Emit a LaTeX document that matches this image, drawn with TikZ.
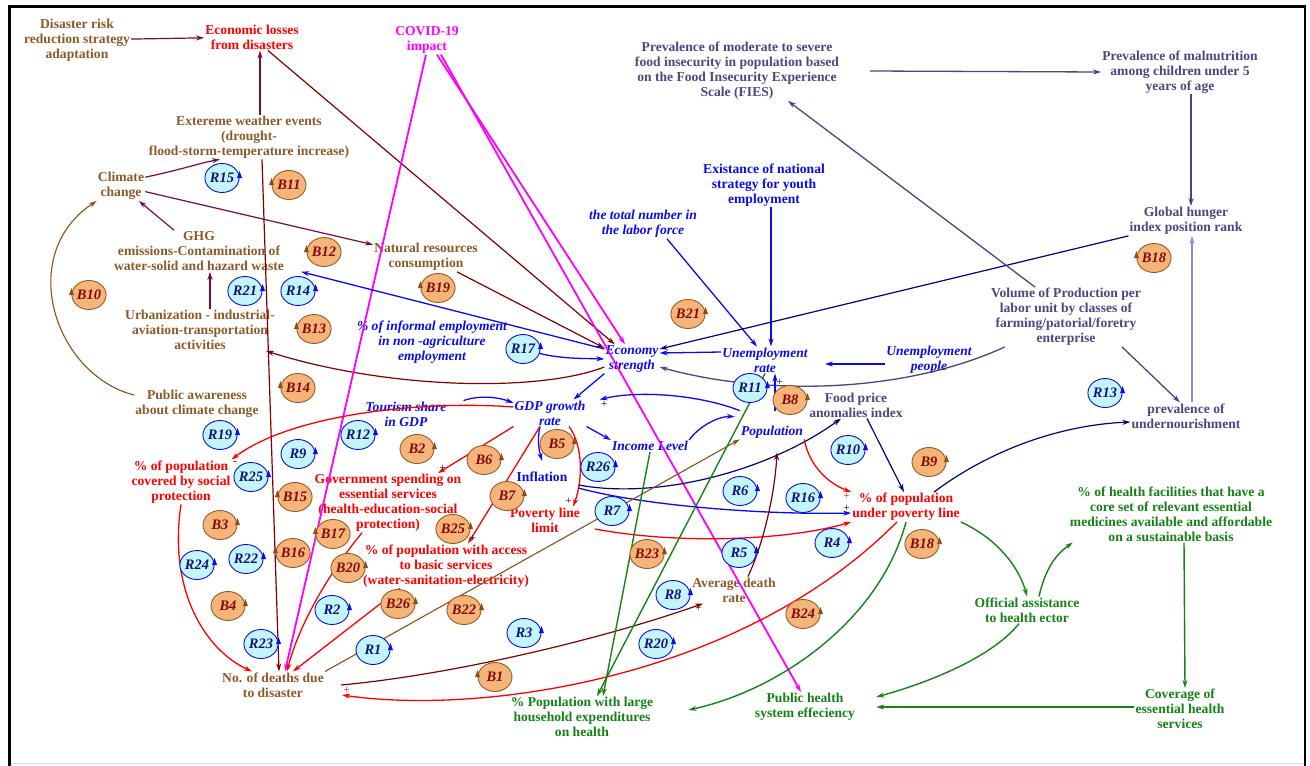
\documentclass[tikz,border=0pt]{standalone}
\usepackage{fontspec}
\setmainfont{Liberation Serif}
\usetikzlibrary{arrows.meta,shapes.geometric}

\definecolor{txtBrown}{RGB}{140,90,40}
\definecolor{txtRed}{RGB}{255,0,0}
\definecolor{txtMagenta}{RGB}{255,0,255}
\definecolor{txtSlate}{RGB}{72,72,130}
\definecolor{txtBlue}{RGB}{10,10,240}
\definecolor{txtGreen}{RGB}{20,130,20}
\definecolor{lnMaroon}{RGB}{128,0,0}
\definecolor{lnPlum}{RGB}{120,10,70}
\definecolor{lnNavy}{RGB}{0,0,130}
\definecolor{lnSlate}{RGB}{70,70,130}
\definecolor{lnPale}{RGB}{140,140,205}
\definecolor{lnBrown}{RGB}{140,80,20}
\definecolor{loopRfill}{RGB}{195,245,250}
\definecolor{loopRtext}{RGB}{20,20,120}
\definecolor{loopBfill}{RGB}{245,180,120}
\definecolor{loopBline}{RGB}{150,90,40}
\definecolor{loopBtext}{RGB}{130,10,10}

\begin{document}
\begin{tikzpicture}[
        % pixel grid: 1pt = 1px, y downwards
        x=1pt, y=-1pt,
        >={Stealth[length=8pt,width=5pt]},
        varTxt/.style={align=center, inner sep=1pt, font=\bfseries\fontsize{13.6}{15}\selectfont},
        varIt/.style={varTxt, font=\bfseries\itshape\fontsize{13.6}{15}\selectfont},
        % arrow styles
        arrPlum/.style={->, draw=lnPlum, line width=1.2pt},
        arrMaroon/.style={->, draw=lnMaroon, line width=1.2pt},
        arrBrown/.style={->, draw=lnBrown, line width=1.1pt},
        arrMagenta/.style={->, draw=txtMagenta, line width=1.8pt},
        arrRed/.style={->, draw=txtRed, line width=1.3pt},
        arrBlue/.style={->, draw=txtBlue, line width=1.3pt},
        arrNavy/.style={->, draw=lnNavy, line width=1.2pt},
        arrSlate/.style={->, draw=lnSlate, line width=1.3pt},
        arrPale/.style={->, draw=lnPale, line width=1.2pt},
        arrGreen/.style={->, draw=txtGreen, line width=1.4pt},
        % loop markers
        rLoop/.style={ellipse, draw=txtBlue, fill=loopRfill, line width=0.9pt, minimum width=34pt, minimum height=29pt, inner sep=0pt, text=loopRtext, font=\bfseries\itshape\fontsize{14.5}{14}\selectfont},
        bLoop/.style={ellipse, draw=loopBline, fill=loopBfill, line width=0.9pt, minimum width=34pt, minimum height=29pt, inner sep=0pt, text=loopBtext, font=\bfseries\itshape\fontsize{14.5}{14}\selectfont},
        pol/.style={font=\fontsize{11}{11}\selectfont, inner sep=1pt}
    ]

    \useasboundingbox (0,0) rectangle (1310,766);

    % --- 1. frame ---
    \draw[gray!30, line width=1pt] (9,763) -- (1305,763);
    \draw[line width=3pt] (9.5,766) -- (9.5,6.5) -- (1305,6.5);
    \draw[line width=2pt] (1305,5) -- (1305,766);

    % --- 2. variables ---
    \node[varTxt, txtBrown] (drr) at (77,40) {Disaster risk\\reduction strategy\\adaptation};
    \node[varTxt, txtRed] (econLoss) at (252,37) {Economic losses\\from disasters};
    \node[varTxt, txtMagenta] (covid) at (427,40) {COVID-19\\impact};
    \node[varTxt, txtSlate] (fies) at (737,71) {Prevalence of moderate to severe\\food insecurity in population based\\on the Food Insecurity Experience\\Scale (FIES)};
    \node[varTxt, txtSlate] (malnut) at (1180,72) {Prevalence of malnutrition\\among children under 5\\years of age};
    \node[varTxt, txtBrown] (extreme) at (249,137) {Extereme weather events\\(drought-\\flood-storm-temperature increase)};
    \node[varTxt, txtBrown] (climate) at (121,186) {Climate\\change};
    \node[varTxt, txtBlue] (youth) at (764,185) {Existance of national\\strategy for youth\\employment};
    \node[varIt, txtBlue] (labor) at (643,224) {the total number in\\the labor force};
    \node[varTxt, txtSlate] (ghi) at (1186,221) {Global hunger\\index position rank};
    \node[varTxt, txtBrown] (ghg) at (199,251) {GHG\\emissions-Contamination of\\water-solid and hazard waste};
    \node[varTxt, txtBrown] (natRes) at (426,257) {Natural resources\\consumption};
    \node[varTxt, txtBrown] (urban) at (200,330) {Urbanization - industrial-\\aviation-transportation\\activities};
    \node[varIt, txtBlue] (informal) at (432,342) {\% of informal employment\\in non -agriculture\\employment};
    \node[varTxt, txtSlate] (volume) at (1066,317) {Volume of Production per\\labor unit by classes of\\farming/patorial/foretry\\enterprise};
    \node[varIt, txtBlue] (economy) at (632,359) {Economy\\strength};
    \node[varIt, txtBlue] (unempRate) at (765,360) {Unemployment\\rate};
    \node[varIt, txtBlue] (unempPeople) at (929,360) {Unemployment\\people};
    \node[varTxt, txtBrown] (awareness) at (197,404) {Public awareness\\about climate change};
    \node[varIt, txtBlue] (gdp) at (550,413) {GDP growth\\rate};
    \node[varIt, txtBlue] (tourism) at (406,414) {Tourism share\\in GDP};
    \node[varTxt, txtSlate] (foodPrice) at (856,405) {Food price\\anomalies index};
    \node[varTxt, txtSlate] (undernour) at (1186,416) {prevalence of\\undernourishment};
    \node[varIt, txtBlue] (population) at (772,432) {Population};
    \node[varIt, txtBlue] (income) at (650,446) {Income Level};
    \node[varTxt, txtBlue] (inflation) at (542,477) {Inflation};
    \node[varTxt, txtRed] (socialProt) at (181,482) {\% of population\\covered by social\\protection};
    \node[varTxt, txtRed] (govSpend) at (388,503) {Government spending on\\essential services\\(health-education-social\\protection)};
    \node[varTxt, txtRed] (povLine) at (545,520) {Poverty line\\limit};
    \node[varTxt, txtRed] (underPov) at (906,507) {\% of population\\under poverty line};
    \node[varTxt, txtGreen] (healthFac) at (1171,514) {\% of health facilities that have a\\core set of relevant essential\\medicines available and affordable\\on a sustainable basis};
    \node[varTxt, txtRed] (access) at (446,566) {\% of population with access\\to basic services\\(water-sanitation-electricity)};
    \node[varTxt, txtBrown] (avgDeath) at (734,590) {Average death\\rate};
    \node[varTxt, txtGreen] (official) at (1027,610) {Official assistance\\to health ector};
    \node[varTxt, txtBrown] (deaths) at (273,685) {No. of deaths due\\to disaster};
    \node[varTxt, txtGreen] (household) at (582,717) {\% Population with large\\household expenditures\\on health};
    \node[varTxt, txtGreen] (phs) at (805,707) {Public health\\system effeciency};
    \node[varTxt, txtGreen] (coverage) at (1180,709) {Coverage of\\essential health\\services};

    % --- 3. climate and disasters ---
    \draw[arrPlum] (drr) -- (econLoss);
    \draw[arrPlum] ([xshift=11pt]extreme.north) -- ([xshift=8pt]econLoss.south);
    \draw[arrPlum] (climate.20) .. controls (180,170) and (200,163) .. ([xshift=-29pt]extreme.south);
    \draw[arrPlum] (ghg) -- (climate);
    \draw[arrPlum] (climate) -- (natRes);
    \draw[arrPlum] ([xshift=10pt]urban.north) -- ([xshift=11pt]ghg.south);
    \draw[arrBrown] ([yshift=-6pt]awareness.north west) .. controls (55,375) and (15,255) .. (climate.south west);
    \draw[arrMaroon] ([yshift=-8pt]economy.west) .. controls (540,392) and (390,390) .. ([xshift=-10pt]urban.south east);
    \draw[arrMaroon] ([xshift=13pt]extreme.south) -- ([xshift=6pt]deaths.north);
    \draw[arrMaroon] (econLoss) -- (economy);
    \draw[arrMaroon] ([xshift=31pt]natRes.south) -- ([yshift=11pt]economy.west);

    % --- 4. COVID-19 ---
    \draw[arrMagenta] ([xshift=-1pt]covid.south) -- ([xshift=12pt]deaths.north);
    \draw[arrMagenta] ([xshift=10pt]covid.south) -- ([xshift=-7pt]economy.north);
    \draw[arrMagenta] ([xshift=14pt]covid.south) -- ([xshift=-4pt]phs.north);

    % --- 5. economy and labour ---
    \draw[arrBlue] (economy.160) -- ([xshift=16pt]ghg.south east);
    \draw[arrBlue] (informal.east) .. controls (545,360) and (575,358) .. (economy.west);
    \draw[arrBlue] ([xshift=24pt]labor.south) -- ([xshift=-8pt]unempRate.north);
    \draw[arrBlue] ([xshift=7pt]youth.south) -- ([xshift=6pt]unempRate.north);
    \draw[arrBlue] ([yshift=-4pt]unempPeople.west) -- ([xshift=16pt,yshift=-4pt]unempRate.east);
    \draw[arrBlue] ([yshift=8pt]unempRate.west) -- ([yshift=6pt]economy.east);
    \draw[arrNavy] (ghi.south west) -- ([yshift=10pt]economy.east);
    \draw[arrSlate] ([xshift=15pt]volume.south west) .. controls (900,395) and (760,395) .. ([yshift=-8pt]economy.east);
    \draw[arrSlate] ([xshift=-31pt]volume.north) -- ([xshift=51pt]fies.south);
    \draw[arrSlate] ([xshift=30pt]fies.east) -- (malnut.west);
    \draw[arrSlate] ([xshift=11pt]malnut.south) -- ([xshift=5pt]ghi.north);
    \draw[arrPale] ([xshift=6pt]undernour.north) -- ([xshift=6pt]ghi.south);
    \draw[arrSlate] ([xshift=56pt]volume.south) -- ([xshift=-6pt]undernour.north);

    % --- 6. GDP growth ---
    \draw[arrBlue] (economy.south west) -- ([xshift=-13pt]gdp.north east);
    \draw[arrBlue] ([xshift=16pt]tourism.north east) .. controls (480,395) and (498,397) .. ([yshift=10pt]gdp.west);
    \draw[arrRed] ([yshift=6pt]gdp.west) .. controls (420,400) and (290,415) .. (socialProt.north east) node[pol, pos=1, below right] {-};
    \draw[arrRed] (gdp.south west) -- ([xshift=50pt]govSpend.north) node[pol, pos=1, above right] {+};
    \draw[arrBlue] ([xshift=-10pt]gdp.south) .. controls (537,440) and (539,450) .. ([yshift=10pt]inflation.north);
    \draw[arrRed] ([xshift=19pt]gdp.south) .. controls (583,445) and (583,480) .. ([xshift=-8pt]povLine.north east) node[pol, pos=1, above left] {+};
    \draw[arrBlue] (gdp.south east) -- (income.north west);
    \draw[arrRed] ([xshift=-10pt]gdp.south) -- ([xshift=22pt]access.north) node[pol, pos=1, above right] {+};
    \draw[arrBlue] ([yshift=14pt]population.north west) .. controls (700,395) and (640,390) .. ([xshift=13pt]gdp.north east) node[pol, pos=1, below right] {+};
    \draw[arrBlue] (income.north east) .. controls (700,425) and (720,416) .. ([xshift=-5pt,yshift=8pt]population.north west);
    \draw[arrBlue] ([xshift=3pt,yshift=14pt]population.north) -- ([xshift=10pt]unempRate.south) node[pol, pos=.75, right] {+};

    % --- 7. poverty and hunger ---
    \draw[arrNavy] ([xshift=10pt,yshift=-8pt]inflation.east) .. controls (660,500) and (770,470) .. ([xshift=-15pt]foodPrice.south) node[pol, pos=1, below left] {+};
    \draw[arrBlue] ([xshift=10pt,yshift=-11pt]inflation.east) .. controls (640,505) and (760,515) .. ([yshift=-6pt]underPov.west) node[pol, pos=1, above left] {+};
    \draw[arrRed] ([xshift=14pt,yshift=-9pt]povLine.east) .. controls (680,545) and (790,540) .. (underPov.south west);
    \draw[arrRed] (population.south east) .. controls (810,468) and (830,484) .. (underPov.north west) node[pol, pos=1, below left, txtRed] {+};
    \draw[arrNavy] ([xshift=11pt]foodPrice.south) -- ([xshift=-2pt]underPov.north);
    \draw[arrNavy] ([xshift=28pt]underPov.north) .. controls (990,450) and (1060,425) .. ([yshift=-6pt]undernour.west);

    % --- 8. deaths ---
    \draw[arrBrown] (deaths.north east) -- (population.south west);
    \draw[arrMaroon] ([xshift=16pt]deaths.east) .. controls (450,675) and (600,640) .. ([xshift=12pt]avgDeath.south west) node[pol, pos=1, below left, lnMaroon] {+};
    \draw[arrMaroon] ([xshift=14pt]avgDeath.north) .. controls (765,540) and (775,490) .. ([xshift=5pt,yshift=-13pt]population.south);
    \draw[arrRed] ([xshift=-9pt]underPov.south) .. controls (740,680) and (480,715) .. ([xshift=17pt,yshift=-10pt]deaths.east) node[pol, pos=1, above right, txtRed] {+};
    \draw[arrRed] ([xshift=-46pt]access.south) -- ([xshift=20pt]deaths.north);
    \draw[arrRed] ([xshift=-26pt]govSpend.south) .. controls (335,565) and (300,620) .. ([xshift=14pt]deaths.north);
    \draw[arrRed] (socialProt.south) .. controls (168,590) and (205,650) .. ([xshift=-21pt]deaths.north);

    % --- 9. health ---
    \draw[arrGreen] (underPov.south) .. controls (880,620) and (780,690) .. ([xshift=34pt,yshift=7pt]household.east);
    \draw[arrGreen] (unempRate.south) -- ([xshift=15pt]household.north);
    \draw[arrGreen] (income.south) -- ([xshift=21pt]household.north);
    \draw[arrGreen] (underPov.south east) .. controls (1000,540) and (1020,570) .. (official.north);
    \draw[arrGreen] ([xshift=12pt]official.north) .. controls (1045,570) and (1055,555) .. ([xshift=4pt]healthFac.south west);
    \draw[arrGreen] ([xshift=-8pt]official.south) .. controls (990,660) and (920,685) .. ([xshift=20pt,yshift=10pt]phs.east);
    \draw[arrGreen] ([xshift=13pt]healthFac.south) -- ([xshift=5pt]coverage.north);
    \draw[arrGreen] ([yshift=2pt]coverage.west) -- ([xshift=20pt]phs.east);

    % --- 10. loop markers ---
    \foreach \n/\x/\y in {R15/222/178, R21/245/291, R14/298/291, R17/523/349, R11/750/388,
        R13/1105/393, R19/220/435, R12/358/435, R9/298/454, R26/598/467, R25/251/477,
        R10/848/450, R6/740/491, R16/803/498, R7/612/511, R4/832/543, R24/197/565,
        R22/246/559, R5/739/553, R2/332/610, R8/673/595, R3/524/633, R23/261/644,
        R1/373/650, R20/656/644} {
        \node[rLoop] (\n) at (\x,\y) {\n};
        \fill[txtBlue] ([xshift=-2.5pt]\n.east) -- ([xshift=2.5pt]\n.east) -- ([yshift=7pt]\n.east) -- cycle;
    }
    % B loops, arrow on the left
    \foreach \n/\lbl/\x/\y in {B11/B11/289/185, B12/B12/324/252, B10/B10/89/295, B13/B13/314/329,
        B19/B19/438/288, B14/B14/298/388, B18a/B18/1154/258, B15/B15/295/497,
        B16/B16/293/553, B17/B17/333/534, B1/B1/495/677} {
        \node[bLoop] (\n) at (\x,\y) {\lbl};
        \fill[lnBrown] ([xshift=-2.5pt]\n.west) -- ([xshift=2.5pt]\n.west) -- ([yshift=7pt]\n.west) -- cycle;
    }
    % B loops, arrow on the right
    \foreach \n/\lbl/\x/\y in {B21/B21/688/314, B8/B8/790/400, B9/B9/929/462, B2/B2/417/449,
        B6/B6/484/460, B5/B5/557/444, B7/B7/507/496, B3/B3/220/525, B25/B25/453/529,
        B23/B23/647/554, B20/B20/348/568, B18b/B18/922/544, B26/B26/398/604,
        B4/B4/228/606, B22/B22/464/610, B24/B24/803/614} {
        \node[bLoop] (\n) at (\x,\y) {\lbl};
        \fill[lnBrown] ([xshift=-2.5pt]\n.east) -- ([xshift=2.5pt]\n.east) -- ([yshift=7pt]\n.east) -- cycle;
    }

\end{tikzpicture}
\end{document}
